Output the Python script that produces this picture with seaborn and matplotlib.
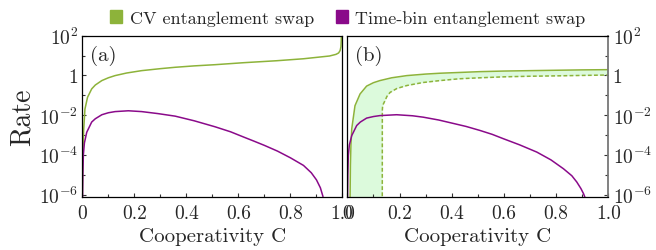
import matplotlib
matplotlib.use("Agg")
import matplotlib.pyplot as plt
import matplotlib.patches as mpatches
from matplotlib.ticker import FixedLocator, MultipleLocator, NullFormatter
import numpy as np
import pandas as pd
import seaborn as sns

# ── Data ───────────────────────────────────────────────────────────────
# panel (a)
c_cv_a = [0.0, 0.002, 0.005, 0.01, 0.02, 0.036, 0.05, 0.075, 0.1, 0.126,
          0.17, 0.228, 0.3, 0.357, 0.43, 0.51, 0.62, 0.748, 0.85, 0.95,
          0.975, 0.985, 0.991, 0.994, 0.996]
rate_cv_a = [8e-7, 1e-4, 1.6e-3, 2e-2, 7.9e-2, 0.21, 0.33, 0.55, 0.76, 0.98,
             1.32, 1.74, 2.19, 2.57, 3.02, 3.47, 4.37, 5.5, 6.9, 9.5,
             11.5, 13.5, 18.0, 28.0, 100.0]

c_tb_a = [0.0, 0.002, 0.004, 0.008, 0.017, 0.036, 0.05, 0.075, 0.1, 0.126,
          0.177, 0.228, 0.29, 0.357, 0.43, 0.51, 0.57, 0.62, 0.66, 0.70,
          0.75, 0.80, 0.85, 0.88, 0.90, 0.915, 0.925]
rate_tb_a = [1e-7, 1e-5, 1e-4, 4e-4, 1.38e-3, 4.5e-3, 6.6e-3, 1.05e-2, 1.32e-2, 1.51e-2,
             1.66e-2, 1.51e-2, 1.2e-2, 8.9e-3, 5.2e-3, 2.6e-3, 1.45e-3, 7.9e-4, 4.9e-4, 3.0e-4,
             1.55e-4, 7.1e-5, 2.95e-5, 1.26e-5, 5.5e-6, 2.2e-6, 8e-7]

# panel (b)
c_cv_b = [0.010, 0.012, 0.014, 0.017, 0.0295, 0.049, 0.074, 0.1, 0.125, 0.17,
          0.228, 0.3, 0.355, 0.43, 0.508, 0.6, 0.7, 0.8, 0.9, 1.0]
rate_cv_b = [1e-7, 3.2e-5, 3.2e-4, 2e-3, 3e-2, 0.117, 0.29, 0.43, 0.55, 0.76,
             0.98, 1.17, 1.29, 1.41, 1.55, 1.66, 1.74, 1.82, 1.9, 1.95]

c_cv_b_dash = [0.134, 0.1342, 0.135, 0.138, 0.1445, 0.152, 0.164, 0.19, 0.228,
               0.29, 0.355, 0.43, 0.508, 0.6, 0.7, 0.8, 0.9, 1.0]
rate_cv_b_dash = [1e-7, 1.7e-2, 2.5e-2, 3.6e-2, 5.4e-2, 8.9e-2, 0.14, 0.22, 0.31,
                  0.44, 0.55, 0.68, 0.76, 0.85, 0.91, 0.95, 1.0, 1.05]

c_tb_b = [0.0, 0.002, 0.004, 0.008, 0.017, 0.036, 0.05, 0.074, 0.1, 0.125,
          0.189, 0.25, 0.291, 0.35, 0.4, 0.455, 0.508, 0.555, 0.598, 0.66,
          0.726, 0.78, 0.828, 0.86, 0.879, 0.895, 0.905, 0.912]
rate_tb_b = [1e-7, 1e-5, 9.3e-5, 3.2e-4, 9.3e-4, 3e-3, 4.5e-3, 7.1e-3, 8.5e-3, 9.5e-3,
             1.05e-2, 9.3e-3, 7.9e-3, 5.7e-3, 4e-3, 2.7e-3, 1.7e-3, 1.08e-3, 6.5e-4, 3.2e-4,
             1.38e-4, 5.6e-5, 2e-5, 8.9e-6, 4.3e-6, 2e-6, 1.1e-6, 6.3e-7]

legend_labels = ["CV entanglement swap", "Time-bin entanglement swap"]
panel_labels = ["(a)", "(b)"]
x_ticks = [0, 0.2, 0.4, 0.6, 0.8, 1.0]
x_ticklabels = ["0", "0.2", "0.4", "0.6", "0.8", "1.0"]
y_ticks = [1e-6, 1e-4, 1e-2, 1, 1e2]
y_ticklabels = [r"$10^{-6}$", r"$10^{-4}$", r"$10^{-2}$", "1", r"$10^{2}$"]
y_minor = [1e-5, 1e-3, 1e-1, 10]

GREEN = "#8db33a"
PURPLE = "#8a0a8a"
FILL = "#dcfadc"

# ── Style ──────────────────────────────────────────────────────────────
sns.set_style("ticks")
plt.rcParams["font.family"] = ["cmr10", "DejaVu Serif"]
plt.rcParams["mathtext.fontset"] = "cm"
plt.rcParams["axes.formatter.use_mathtext"] = True
plt.rcParams["axes.unicode_minus"] = False

fig = plt.figure(figsize=(6.56, 2.51), dpi=100)
ax_a = fig.add_axes([0.1255, 0.2112, 0.3966, 0.6426])
ax_b = fig.add_axes([0.5294, 0.2112, 0.3980, 0.6426])


def line(ax, c, r, color, ls="-"):
    df = pd.DataFrame({"C": c, "rate": r})
    sns.lineplot(data=df, x="C", y="rate", color=color, lw=1.1, ls=ls,
                 ax=ax, legend=False)


# fill between solid and dashed CV curve in panel (b)
grid = np.union1d(c_cv_b, c_cv_b_dash)
upper = 10 ** np.interp(grid, c_cv_b, np.log10(rate_cv_b), left=-7)
lower = 10 ** np.interp(grid, c_cv_b_dash, np.log10(rate_cv_b_dash), left=-7)
ax_b.fill_between(grid, lower, upper, color=FILL, lw=0, zorder=0)

line(ax_a, c_cv_a, rate_cv_a, GREEN)
line(ax_a, c_tb_a, rate_tb_a, PURPLE)
line(ax_b, c_cv_b, rate_cv_b, GREEN)
line(ax_b, c_cv_b_dash, rate_cv_b_dash, GREEN, ls=(0, (2.5, 1.5)))
line(ax_b, c_tb_b, rate_tb_b, PURPLE)

for ax, lab in zip([ax_a, ax_b], panel_labels):
    ax.set_yscale("log")
    ax.set_xlim(0, 1.0)
    ax.set_ylim(10 ** -6.12, 100)
    ax.set_xticks(x_ticks)
    ax.set_xticklabels(x_ticklabels)
    ax.xaxis.set_minor_locator(MultipleLocator(0.1))
    ax.yaxis.set_major_locator(FixedLocator(y_ticks))
    ax.set_yticklabels(y_ticklabels)
    ax.yaxis.set_minor_locator(FixedLocator(y_minor))
    ax.yaxis.set_minor_formatter(NullFormatter())
    ax.tick_params(which="both", direction="in", labelsize=14, pad=3,
                   color="#333333", width=0.8)
    ax.tick_params(axis="x", which="both", pad=5)
    ax.tick_params(which="major", length=3)
    ax.tick_params(which="minor", length=2)
    ax.set_xlabel("Cooperativity C", fontsize=15, labelpad=4)
    ax.set_ylabel("")
    for s in ax.spines.values():
        s.set_linewidth(0.9)
        s.set_color("black")
    ax.text(0.03, 0.94, lab, transform=ax.transAxes, fontsize=15,
            va="top", ha="left")

ax_a.set_ylabel("Rate", fontsize=20, labelpad=2)
ax_b.yaxis.set_ticks_position("right")
ax_b.tick_params(axis="y", which="both", labelright=True, labelleft=False)
ax_b.spines["right"].set_color("#777777")
ax_b.spines["right"].set_linewidth(1.3)

handles = [mpatches.Patch(color=GREEN), mpatches.Patch(color=PURPLE)]
fig.legend(handles, legend_labels, loc="upper center",
           bbox_to_anchor=(0.53, 1.02), ncol=2, frameon=False, fontsize=13,
           handlelength=0.7, handleheight=0.7, handletextpad=0.4,
           columnspacing=1.2)

fig.savefig("out.png", dpi=100)
